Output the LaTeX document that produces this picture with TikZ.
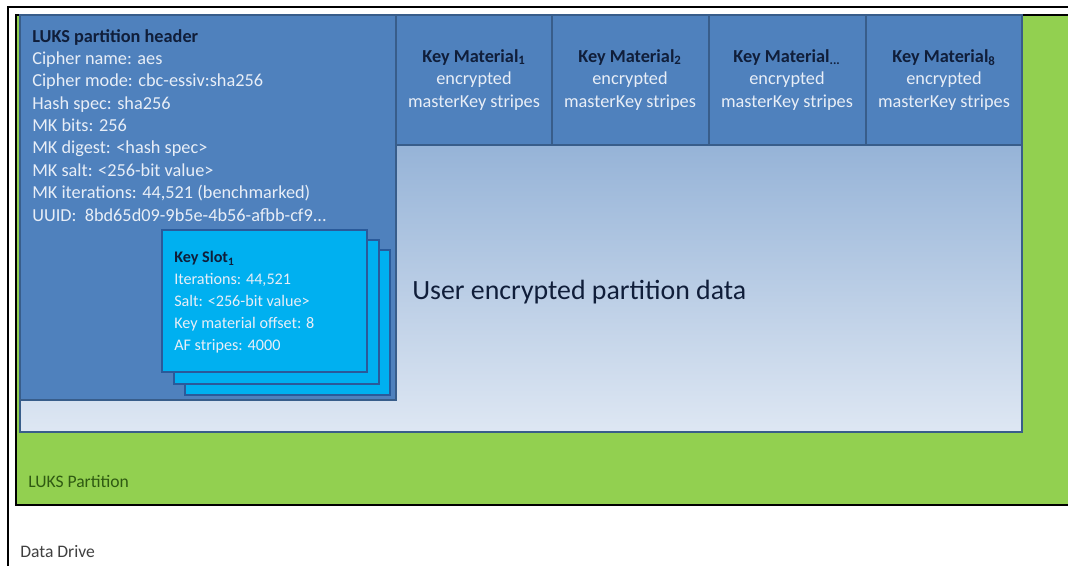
\documentclass[tikz,border=0pt]{standalone}
\usepackage{fontspec}
\setmainfont{Carlito}
\definecolor{headblue}{HTML}{4F81BD}
\definecolor{edgeblue}{HTML}{385D8A}
\definecolor{slotcyan}{HTML}{00B0F0}
\definecolor{slotedge}{HTML}{2A5A9A}
\definecolor{luksgreen}{HTML}{92D050}
\definecolor{datatop}{RGB}{117,156,203}
\definecolor{databot}{RGB}{222,231,243}
\definecolor{lighttext}{HTML}{E8EEF7}
\definecolor{titledark}{HTML}{101E3A}
\definecolor{greentext}{HTML}{2F5A12}

\begin{document}
\begin{tikzpicture}[x=0.025cm,y=-0.025cm,
    bluebox/.style={draw=edgeblue, line width=1.1pt, fill=headblue},
    slotbox/.style={draw=slotedge, line width=1.1pt, fill=slotcyan},
    kmtext/.style={align=center, text=lighttext, font=\fontsize{13}{16.3}\selectfont}]
\useasboundingbox (0,0) rectangle (1068,566);
\begin{scope}
\clip (0,0) rectangle (1068,566);
\fill[white] (0,0) rectangle (1068,566);
% data drive and LUKS partition
\draw[black, line width=1.3pt] (8,7) rectangle (1100,620);
\draw[black, line width=1.6pt, fill=luksgreen] (16,15) rectangle (1100,505);
\shade[top color=datatop, bottom color=databot, draw=edgeblue, line width=1.1pt] (20,15) rectangle (1022,432);
% header
\draw[bluebox] (20,15) rectangle (396,400);
% key material areas
\draw[bluebox] (396,15) rectangle (552,145);
\draw[bluebox] (552,15) rectangle (709,145);
\draw[bluebox] (709,15) rectangle (866,145);
\draw[bluebox] (866,15) rectangle (1022,145);
% key slots (stack)
\draw[slotbox] (185,250) rectangle (390,395);
\draw[slotbox] (174,240) rectangle (379,384);
\draw[slotbox] (162,230) rectangle (367,372);
\end{scope}

\node[anchor=north west, inner sep=0pt, align=left, text=lighttext,
      font=\fontsize{13}{15.9}\selectfont] (header) at (32,29)
  {\textcolor{titledark}{\textbf{LUKS partition header}}\\
   Cipher name: aes\\
   Cipher mode: cbc-essiv:sha256\\
   Hash spec: sha256\\
   MK bits: 256\\
   MK digest: <hash spec>\\
   MK salt: <256-bit value>\\
   MK iterations: 44,521 (benchmarked)\\
   UUID:\ \ 8bd65d09-9b5e-4b56-afbb-cf9...};

\node[kmtext] (km1) at (474,80) {\textcolor{titledark}{\textbf{Key Material\textsubscript{1}}}\\ encrypted\\ masterKey stripes};
\node[kmtext] (km2) at (630,80) {\textcolor{titledark}{\textbf{Key Material\textsubscript{2}}}\\ encrypted\\ masterKey stripes};
\node[kmtext] (km3) at (787,80) {\textcolor{titledark}{\textbf{Key Material\textsubscript{...}}}\\ encrypted\\ masterKey stripes};
\node[kmtext] (km8) at (944,80) {\textcolor{titledark}{\textbf{Key Material\textsubscript{8}}}\\ encrypted\\ masterKey stripes};

\node[anchor=north west, inner sep=0pt, align=left, text=lighttext,
      font=\fontsize{11.5}{15.6}\selectfont] (slot) at (174,251)
  {\textcolor{titledark}{\textbf{Key Slot\textsubscript{1}}}\\
   Iterations: 44,521\\
   Salt: <256-bit value>\\
   Key material offset: 8\\
   AF stripes: 4000};

\node[anchor=west, inner sep=0pt, text=titledark, font=\fontsize{19.8}{22}\selectfont] (userdata) at (412,292) {User encrypted partition data};
\node[anchor=west, inner sep=0pt, text=greentext, font=\fontsize{12.5}{14}\selectfont] (lukslabel) at (28,481) {LUKS Partition};
\node[anchor=west, inner sep=0pt, text=black!75, font=\fontsize{12.5}{14}\selectfont] (drivelabel) at (20,552) {Data Drive};
\end{tikzpicture}
\end{document}
